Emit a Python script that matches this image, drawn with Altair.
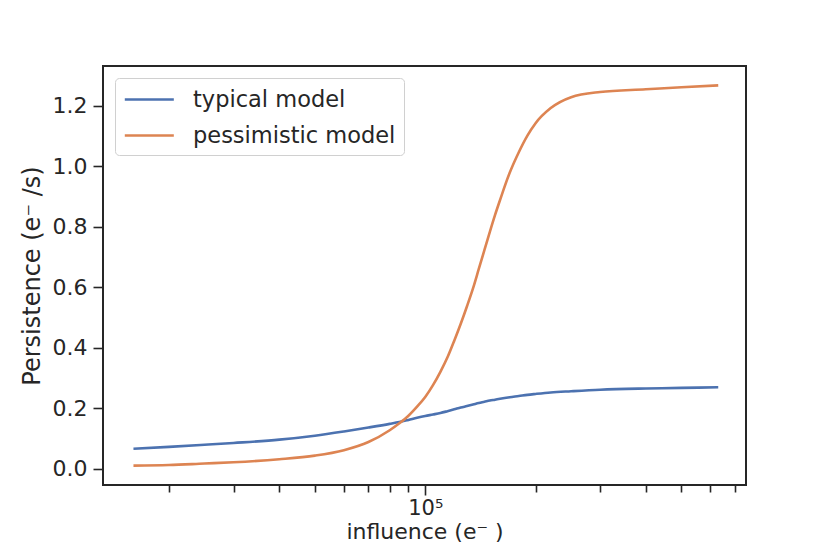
import altair as alt
import pandas as pd

# x positions (influence, e-)
influence = [16000, 20000, 25000, 30000, 40000, 50000, 60000, 70000, 80000, 85000,
             90000, 95000, 100000, 105000, 110000, 115000, 120000, 125000, 130000,
             135000, 140000, 145000, 150000, 155000, 160000, 170000, 180000, 190000,
             200000, 220000, 250000, 300000, 400000, 500000, 630000]
typical = [0.066, 0.072, 0.079, 0.085, 0.096, 0.109, 0.123, 0.136, 0.148, 0.154,
           0.161, 0.168, 0.174, 0.179, 0.184, 0.190, 0.196, 0.202, 0.207,
           0.212, 0.217, 0.221, 0.225, 0.228, 0.231, 0.236, 0.240, 0.244,
           0.247, 0.252, 0.256, 0.261, 0.265, 0.267, 0.269]
pessimistic = [0.010, 0.012, 0.017, 0.021, 0.031, 0.043, 0.061, 0.088, 0.127, 0.150,
               0.175, 0.205, 0.237, 0.276, 0.320, 0.368, 0.423, 0.479, 0.537,
               0.596, 0.660, 0.722, 0.782, 0.838, 0.888, 0.978, 1.046, 1.101,
               1.142, 1.192, 1.228, 1.245, 1.254, 1.261, 1.267]
series_names = ["typical model", "pessimistic model"]
series_colors = ["#4C72B0", "#DD8452"]
y_ticks = [0.0, 0.2, 0.4, 0.6, 0.8, 1.0, 1.2]
x_ticks = [20000, 30000, 40000, 50000, 60000, 70000, 80000, 90000,
           100000, 200000, 300000, 400000, 500000, 600000, 700000]

rows = []
for i, x in enumerate(influence):
    rows.append({"x": x, "y": typical[i], "model": series_names[0], "o": i})
    rows.append({"x": x, "y": pessimistic[i], "model": series_names[1], "o": i})
df = pd.DataFrame(rows)

FONT = "DejaVu Sans"
INK = "#262626"

chart = alt.Chart(df).mark_line(strokeWidth=2.6, clip=True, interpolate="monotone").encode(
    x=alt.X("x:Q",
            scale=alt.Scale(type="log", domain=[13213, 750000], nice=False),
            axis=alt.Axis(values=x_ticks,
                          labelExpr="datum.value == 100000 ? '10⁵' : ''",
                          tickSize={"condition": {"test": "datum.value == 100000", "value": 10}, "value": 7},
                          grid=False, domain=False, tickColor=INK, tickWidth=1.6,
                          labelFont=FONT, labelFontSize=21, labelColor=INK, labelPadding=2,
                          labelFlush=False,
                          title="influence (e⁻ )", titleFont=FONT, titleFontSize=22,
                          titleFontWeight="normal", titleColor=INK, titlePadding=3)),
    y=alt.Y("y:Q",
            scale=alt.Scale(domain=[-0.054, 1.331], nice=False, zero=False),
            axis=alt.Axis(values=y_ticks, format=".1f", tickSize=10,
                          grid=False, domain=False, tickColor=INK, tickWidth=1.6,
                          labelFont=FONT, labelFontSize=22, labelColor=INK, labelPadding=6,
                          title="Persistence (e⁻ /s)", titleFont=FONT, titleFontSize=24,
                          titleFontWeight="normal", titleColor=INK, titlePadding=8)),
    color=alt.Color("model:N",
                    scale=alt.Scale(domain=series_names, range=series_colors),
                    legend=alt.Legend(title=None, orient="none", legendX=12, legendY=12,
                                      symbolType="M-0.975,0H3.11", symbolSize=576,
                                      symbolStrokeWidth=2.6, labelOffset=43,
                                      rowPadding=11, padding=8, labelLimit=0,
                                      labelFont=FONT, labelFontSize=22.5, labelColor=INK,
                                      strokeColor="#d0d0d0", fillColor="white",
                                      cornerRadius=4)),
    order="o:Q",
).properties(
    width=643, height=419,
    background="white",
    padding={"left": 95, "top": 58, "right": 76, "bottom": 61},
    autosize=alt.AutoSizeParams(type="none"),
).configure_view(
    stroke=INK, strokeWidth=2
)

chart.save("out.html", embed_options={"renderer": "svg", "actions": False})
